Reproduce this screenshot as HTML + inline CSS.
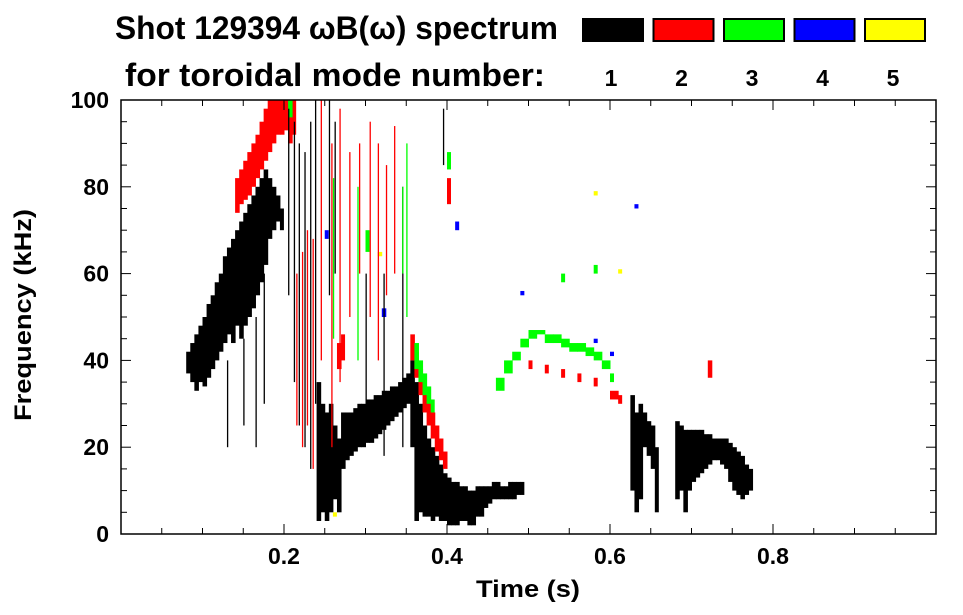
<!DOCTYPE html>
<html><head><meta charset="utf-8"><style>
html,body{margin:0;padding:0;background:#fff;}
svg{display:block;font-family:"Liberation Sans",sans-serif;font-weight:bold;}
</style></head><body>
<svg id="chart" width="963" height="615" viewBox="0 0 963 615" xmlns="http://www.w3.org/2000/svg">
<text x="115" y="39" font-size="32" textLength="443" lengthAdjust="spacingAndGlyphs">Shot 129394 ωB(ω) spectrum</text>
<text x="125" y="86" font-size="32" textLength="420" lengthAdjust="spacingAndGlyphs">for toroidal mode number:</text>
<g id="legend"></g>
<g id="marks"></g>
<g id="axes"></g>
<text x="528" y="597" font-size="24" text-anchor="middle" textLength="104" lengthAdjust="spacingAndGlyphs">Time (s)</text>
<text transform="translate(31,315) rotate(-90)" font-size="24" text-anchor="middle" textLength="212" lengthAdjust="spacingAndGlyphs">Frequency (kHz)</text>
</svg>
<script>
const modeColors = ['#000000','#ff0000','#00ff00','#0000ff','#ffff00'];
const modeLabels = ['1','2','3','4','5'];
const xTicks = [0.2,0.4,0.6,0.8];
const yTicks = [0,20,40,60,80,100];
// [time s, low kHz, high kHz]
const mode1 = [[0.080,37,42],[0.085,35,44],[0.090,33,46],[0.095,35,48],[0.100,34,50],[0.105,36,53],[0.110,38,55],[0.115,40,58],[0.120,42,60],[0.125,44,64],[0.130,46,66],[0.135,44,68],[0.140,48,70],[0.145,45,72],[0.150,48,74],[0.155,50,76],[0.160,52,78],[0.165,55,80],[0.170,58,82],[0.175,62,84],[0.180,68,82],[0.185,70,80],[0.190,72,78],[0.195,70,75],[0.240,3,35],[0.245,5,30],[0.250,3,28],[0.255,5,30],[0.260,8,25],[0.265,5,22],[0.270,15,28],[0.275,17,28],[0.280,18,28],[0.285,19,29],[0.290,20,30],[0.295,20,30],[0.300,21,31],[0.305,21,31],[0.310,22,32],[0.315,23,32],[0.320,24,33],[0.325,25,33],[0.330,26,34],[0.335,27,34],[0.340,28,35],[0.345,29,36],[0.350,30,37],[0.355,20,40],[0.360,3,35],[0.365,5,30],[0.370,4,25],[0.375,4,22],[0.380,3,20],[0.385,4,18],[0.390,3,16],[0.395,3,14],[0.400,2,13],[0.405,2,12],[0.410,2,12],[0.415,3,11],[0.420,3,11],[0.425,2,10],[0.430,2,10],[0.435,4,11],[0.440,4,11],[0.445,6,11],[0.450,7,11],[0.455,8,12],[0.460,8,12],[0.465,8,11],[0.470,8,11],[0.475,8,12],[0.480,8,12],[0.485,9,12],[0.490,9,12],[0.625,10,32],[0.630,5,28],[0.635,8,30],[0.640,20,28],[0.645,18,26],[0.650,15,25],[0.655,5,20],[0.680,8,26],[0.685,10,25],[0.690,5,24],[0.695,10,24],[0.700,12,24],[0.705,13,24],[0.710,14,24],[0.715,15,23],[0.720,16,23],[0.725,17,22],[0.730,17,22],[0.735,16,22],[0.740,15,22],[0.745,12,21],[0.750,10,20],[0.755,9,19],[0.760,8,18],[0.765,9,16],[0.770,10,15]];
const mode2 = [[0.140,74,82],[0.145,76,84],[0.150,77,86],[0.155,78,88],[0.160,80,90],[0.165,82,92],[0.170,84,95],[0.175,86,98],[0.180,88,100],[0.185,90,100],[0.190,92,100],[0.195,92,100],[0.200,93,100],[0.205,90,100],[0.210,92,100],[0.265,38,44],[0.270,40,46],[0.355,40,46],[0.360,36,42],[0.365,32,38],[0.370,28,34],[0.375,25,31],[0.380,22,28],[0.385,19,25],[0.390,17,22],[0.395,15,19],[0.400,76,82],[0.500,38,40],[0.520,37,39],[0.540,36,38],[0.560,35,37],[0.580,34,36],[0.600,31,33],[0.610,30,32],[0.720,36,40]];
const mode3 = [[0.360,38,44],[0.365,35,40],[0.370,32,37],[0.375,30,34],[0.380,28,31],[0.460,33,36],[0.470,37,40],[0.480,40,42],[0.490,43,45],[0.500,45,47],[0.510,46,47],[0.520,44,46],[0.530,44,46],[0.540,43,45],[0.550,42,44],[0.560,42,44],[0.570,41,43],[0.580,40,42],[0.590,38,40],[0.600,35,37],[0.540,58,60],[0.580,60,62],[0.400,84,88],[0.300,65,70],[0.205,96,100]];
const mode4 = [[0.490,55,56],[0.580,44,45],[0.600,41,42],[0.630,75,76],[0.250,68,70],[0.410,70,72],[0.320,50,52]];
const mode5 = [[0.260,4,5],[0.580,78,79],[0.610,60,61],[0.315,64,65]];
// thin streaks: [time, low, high, mode index]
const streaks = [[0.205,55,98,0],[0.212,35,95,0],[0.218,25,90,0],[0.225,20,88,0],[0.232,15,95,0],[0.238,30,100,0],[0.255,55,100,0],[0.262,60,95,0],[0.300,25,60,0],[0.322,18,60,0],[0.345,20,80,0],[0.395,85,98,0],[0.130,20,40,0],[0.150,25,45,0],[0.165,20,50,0],[0.175,30,60,0],[0.215,25,60,1],[0.222,20,65,1],[0.228,25,70,1],[0.235,15,68,1],[0.245,40,100,1],[0.258,20,90,1],[0.268,35,98,1],[0.280,50,88,1],[0.292,60,90,1],[0.305,50,95,1],[0.315,40,90,1],[0.325,55,85,1],[0.335,60,94,1],[0.260,45,82,2],[0.290,40,80,2],[0.345,60,80,2],[0.350,50,90,2]];

const X0=121,X1=936,Y0=534,Y1=100;
const xs=t=>X0+(t-0)/(1.0)*(X1-X0);
const ys=f=>Y0-(f/100)*(Y0-Y1);
const NS='http://www.w3.org/2000/svg';
function mk(tag,attrs,parent){const e=document.createElementNS(NS,tag);for(const k in attrs)e.setAttribute(k,attrs[k]);parent.appendChild(e);return e;}
const marks=document.getElementById('marks');
[mode1,mode2,mode3,mode4,mode5].forEach((arr,m)=>{
  arr.forEach((d,i)=>{
    const nx=(i+1<arr.length)?xs(arr[i+1][0])-xs(d[0]):4;
    const w=(nx>0&&nx<9)?nx+0.5:4;
    const r=mk('rect',{x:xs(d[0]),y:ys(d[2]),width:w,height:Math.max(1.5,ys(d[1])-ys(d[2])),fill:modeColors[m]},marks);
    
    
  });
});
streaks.forEach(d=>{
  const r=mk('rect',{x:xs(d[0]),y:ys(d[2]),width:1.3,height:ys(d[1])-ys(d[2]),fill:modeColors[d[3]]},marks);
  
  
});
const ax=document.getElementById('axes');
mk('rect',{x:X0,y:Y1,width:X1-X0,height:Y0-Y1,fill:'none',stroke:'#000','stroke-width':1.5},ax);
for(let i=1;i<20;i++){const t=i*0.05;const x=xs(t);const L=(i%4===0)?10:6;
  mk('line',{x1:x,x2:x,y1:Y0,y2:Y0-L,stroke:'#000','stroke-width':1},ax);
  mk('line',{x1:x,x2:x,y1:Y1,y2:Y1+L,stroke:'#000','stroke-width':1},ax);}
for(let f=5;f<100;f+=5){const y=ys(f);const L=(f%20===0)?10:6;
  mk('line',{x1:X0,x2:X0+L,y1:y,y2:y,stroke:'#000','stroke-width':1},ax);
  mk('line',{x1:X1,x2:X1-L,y1:y,y2:y,stroke:'#000','stroke-width':1},ax);}
xTicks.forEach(t=>{const e=mk('text',{x:xs(t),y:Y0+30,'font-size':23,'text-anchor':'middle'},ax);e.textContent=t.toFixed(1);
  
  });
yTicks.forEach(f=>{const e=mk('text',{x:X0-12,y:ys(f)+8,'font-size':23,'text-anchor':'end'},ax);e.textContent=String(f);
  
  });
const lg=document.getElementById('legend');
modeColors.forEach((c,i)=>{const x=583+i*70.5;
  const r=mk('rect',{x:x,y:19,width:60,height:22,fill:c,stroke:'#000','stroke-width':2},lg);
  
  
  const t=mk('text',{x:x+28,y:86,'font-size':23,'text-anchor':'middle'},lg);t.textContent=modeLabels[i];
  
  });
</script>
</body></html>
